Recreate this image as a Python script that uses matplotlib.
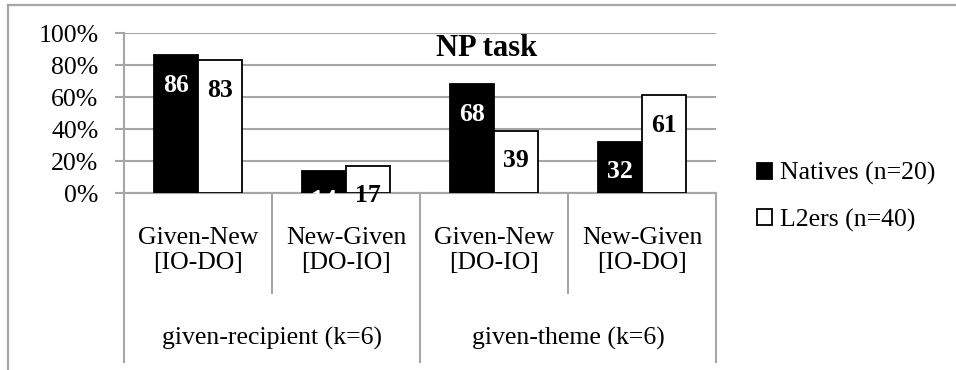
import matplotlib
matplotlib.use("Agg")
import matplotlib.pyplot as plt
import matplotlib.transforms as mtransforms
from matplotlib.lines import Line2D
import numpy as np

# ------------------------------------------------------------
# data
# ------------------------------------------------------------
categories = ["Given-New\n[IO-DO]", "New-Given\n[DO-IO]",
              "Given-New\n[DO-IO]", "New-Given\n[IO-DO]"]
groups = ["given-recipient (k=6)", "given-theme (k=6)"]
natives = [86, 14, 68, 32]
l2ers = [83, 17, 39, 61]
series_names = ["Natives (n=20)", "L2ers (n=40)"]
yticks = [0, 20, 40, 60, 80, 100]
title = "NP task"

GRID = "#a6a6a6"
FS = 18.5

plt.rcParams["font.family"] = ["Liberation Serif", "DejaVu Serif"]

W, H = 956, 370
fig = plt.figure(figsize=(W / 100, H / 100), dpi=100)

# axes placement in pixels (0% at y=193, 100% at y=33, x from 124 to 716)
x0, x1, ytop, ybot = 124, 716, 33, 193
ax = fig.add_axes([x0 / W, (H - ybot) / H, (x1 - x0) / W, (ybot - ytop) / H])

x = np.arange(len(categories)) + 0.5
bw = 0.297
b1 = ax.bar(x - bw / 2, natives, bw, color="black", edgecolor="black",
            linewidth=1.3, label=series_names[0], zorder=3)
b2 = ax.bar(x + bw / 2, l2ers, bw, color="white", edgecolor="black",
            linewidth=1.3, label=series_names[1], zorder=3)

# value labels, inside end
for bars, vals, col in [(b1, natives, "white"), (b2, l2ers, "black")]:
    for r, v in zip(bars, vals):
        ax.annotate(str(v), (r.get_x() + r.get_width() / 2, v),
                    xytext=(0, -21.5), textcoords="offset points",
                    ha="center", va="center", fontsize=FS,
                    fontweight="bold", color=col, zorder=4,
                    annotation_clip=False)

ax.set_xlim(0, 4)
ax.set_ylim(0, 100)
ax.set_yticks(yticks)
ax.set_yticklabels([f"{t}%" for t in yticks], fontsize=FS)
ax.set_xticks([])
ax.yaxis.grid(True, color=GRID, linewidth=1.5, zorder=0)
ax.tick_params(axis="y", length=6.5, width=1.5, color=GRID, pad=12)
for s in ["top", "right"]:
    ax.spines[s].set_visible(False)
for s in ["left", "bottom"]:
    ax.spines[s].set_color(GRID)
    ax.spines[s].set_linewidth(1.5)
ax.set_axisbelow(True)

tr = mtransforms.blended_transform_factory(ax.transData, ax.transAxes)
ax.text(2.45, 0.90, title, transform=tr, ha="center", va="center",
        fontsize=22, fontweight="bold")

# category axis: separators and two-level labels
for xb in range(5):
    y_end = -1.056 if xb % 2 == 0 else -0.625
    ax.add_line(Line2D([xb, xb], [0, y_end], transform=tr, color=GRID,
                       linewidth=1.5, clip_on=False))
for xi, lab in zip(x, categories):
    ax.text(xi, -0.36, lab, transform=tr, ha="center", va="center",
            fontsize=FS, linespacing=1.2)
for gi, lab in enumerate(groups):
    ax.text(2 * gi + 1, -0.906, lab, transform=tr, ha="center",
            va="center", fontsize=FS)

# legend
leg = fig.legend(handles=[b1, b2], labels=series_names, loc="center left",
                 bbox_to_anchor=(757 / W, (H - 197) / H), frameon=False,
                 fontsize=FS, handlelength=0.6, handleheight=0.6,
                 handletextpad=0.3, labelspacing=0.9, borderpad=0,
                 borderaxespad=0)

# outer chart frame (only top and left edges fall inside the picture)
fig.add_artist(Line2D([8 / W, 8 / W], [0, (H - 5) / H], color=GRID,
                      linewidth=1.6, transform=fig.transFigure))
fig.add_artist(Line2D([8 / W, 1], [(H - 5) / H, (H - 5) / H], color=GRID,
                      linewidth=1.6, transform=fig.transFigure))

fig.savefig("out.png", dpi=100)
